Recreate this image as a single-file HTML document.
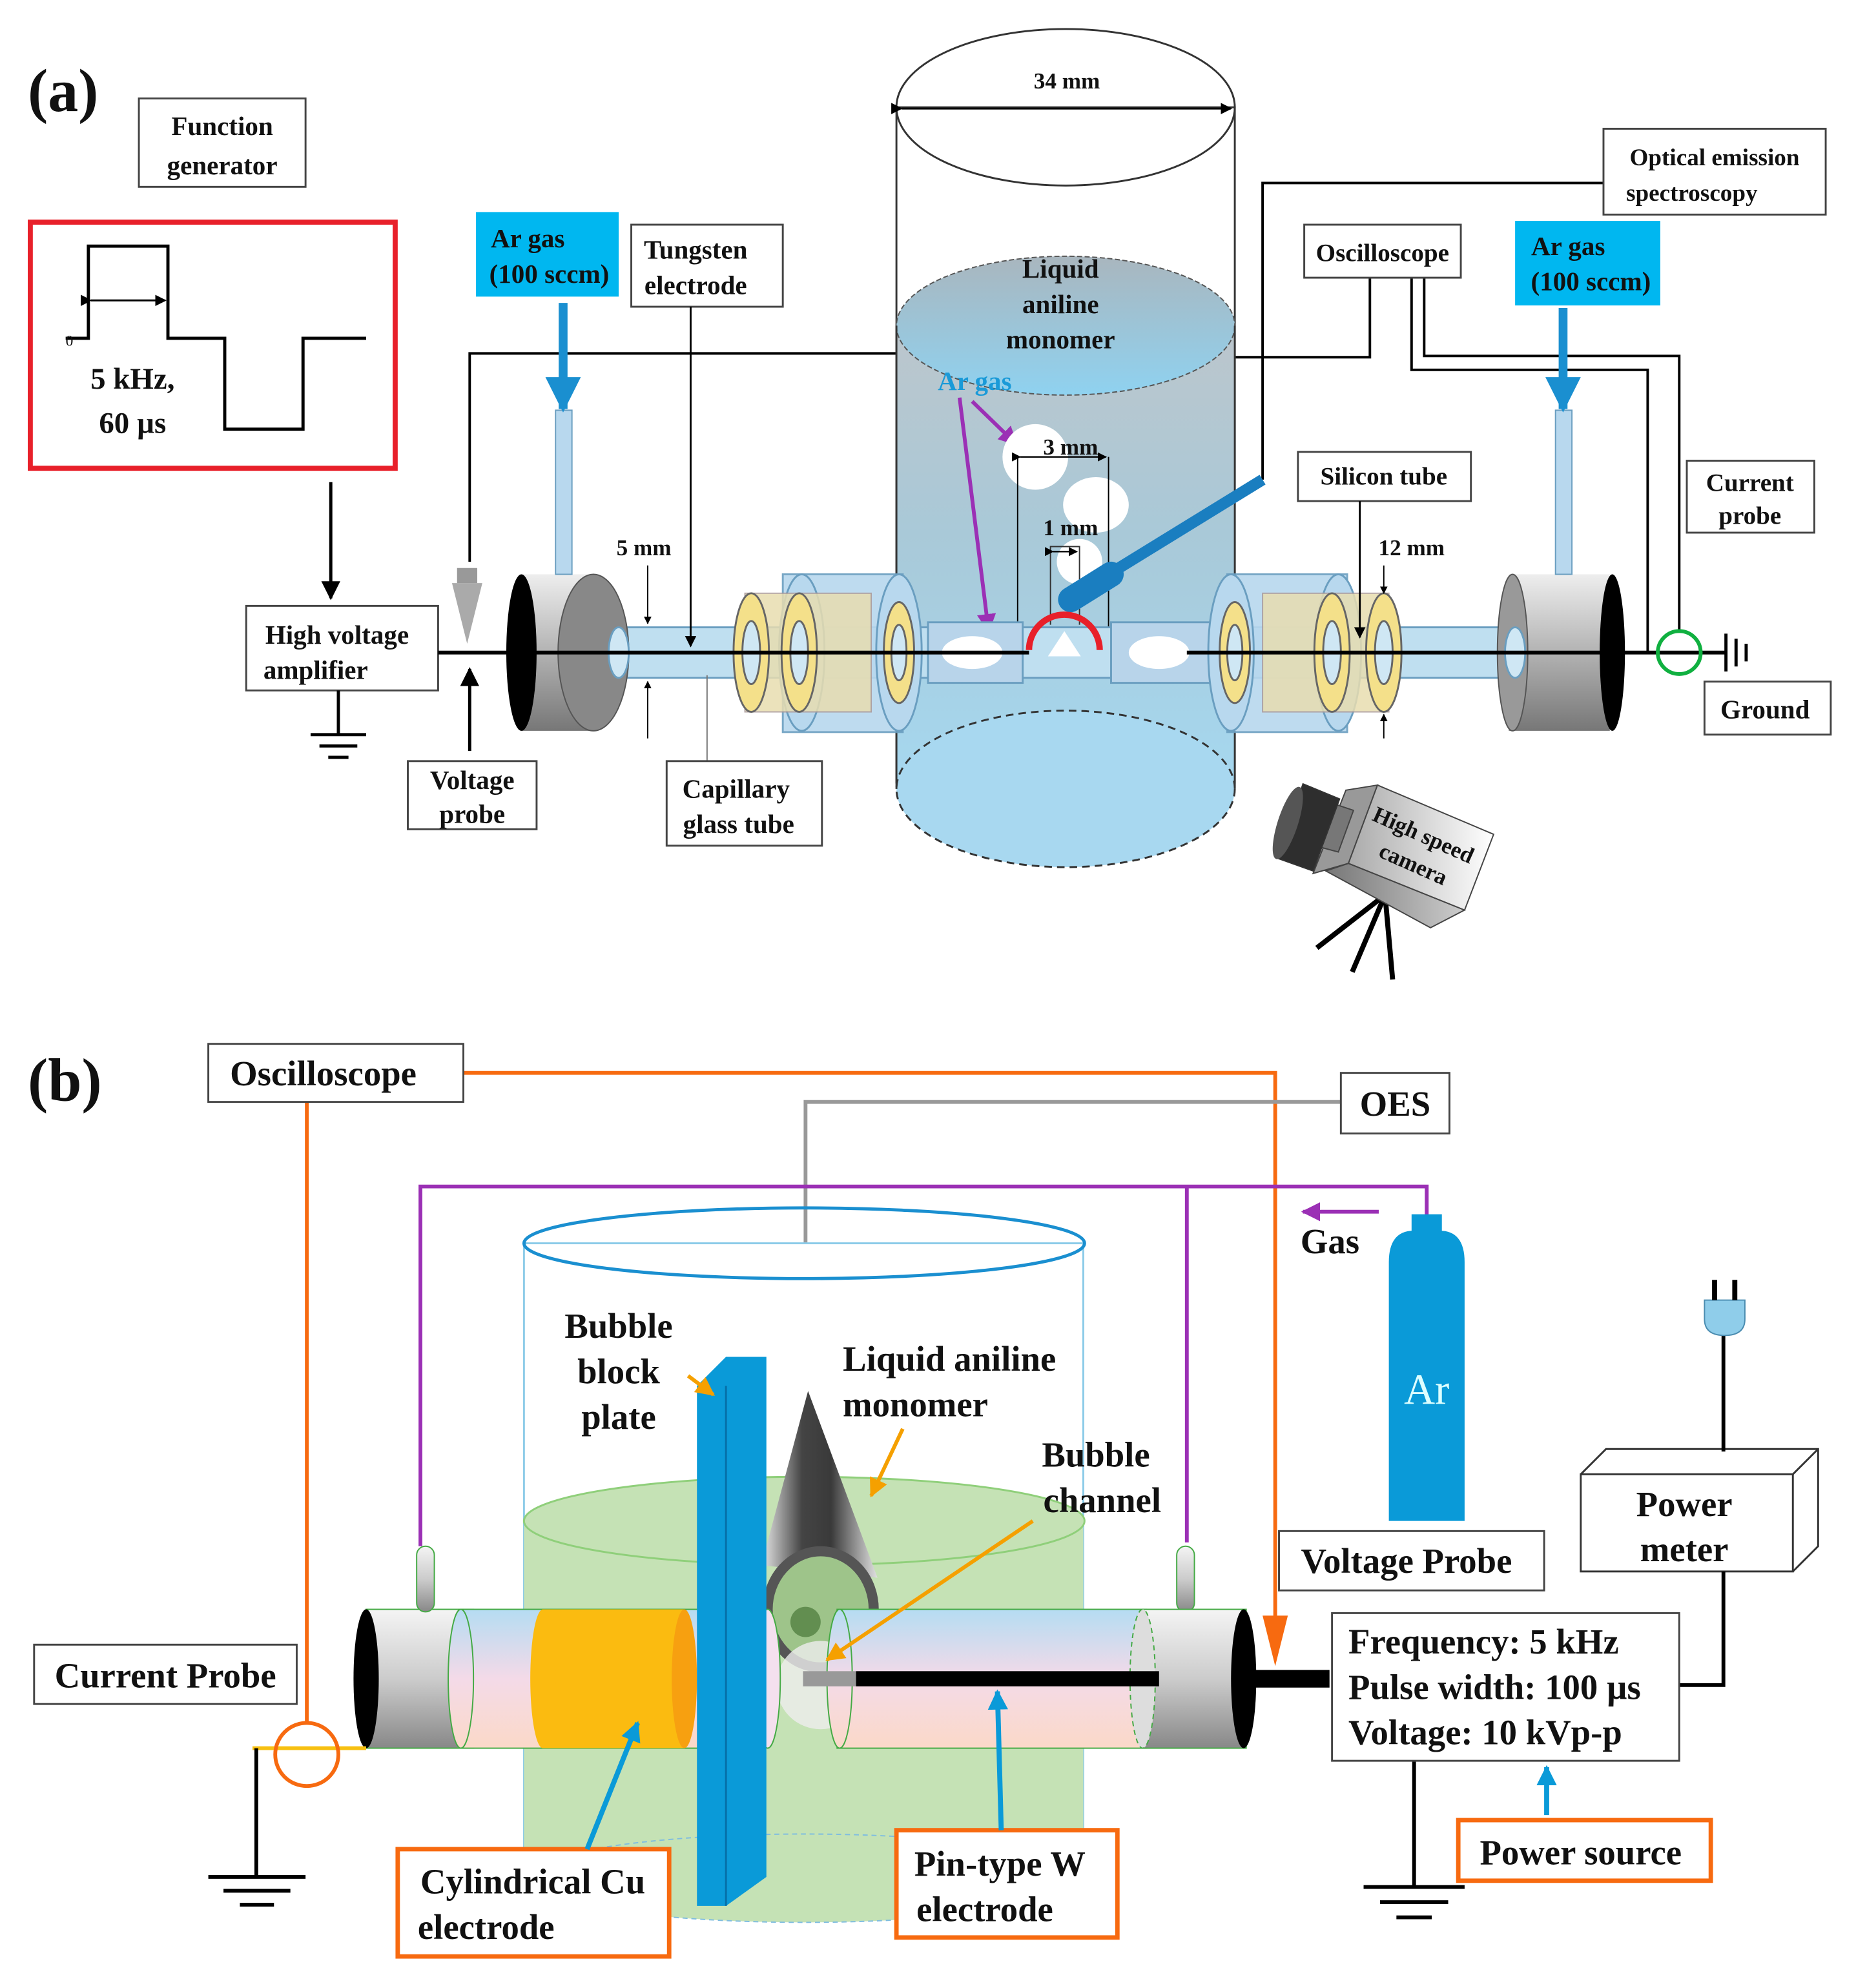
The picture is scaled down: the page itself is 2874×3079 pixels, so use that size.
<!DOCTYPE html>
<html><head><meta charset="utf-8"><style>
html,body{margin:0;padding:0;background:#fff;}
svg{display:block;}
text{font-family:"Liberation Serif",serif;fill:#111;}
.a{font-size:21px;font-weight:bold;}
.b{font-size:28px;font-weight:bold;}
</style></head><body>
<svg width="2874" height="3079" viewBox="0 0 1470 1575" preserveAspectRatio="none" xmlns="http://www.w3.org/2000/svg">
<defs>
<linearGradient id="gray" x1="0" y1="0" x2="0" y2="1"><stop offset="0" stop-color="#eee"/><stop offset="1" stop-color="#777"/></linearGradient>
<linearGradient id="gray2" x1="0" y1="0" x2="0" y2="1"><stop offset="0" stop-color="#f4f4f4"/><stop offset="0.5" stop-color="#ccc"/><stop offset="1" stop-color="#888"/></linearGradient>
<linearGradient id="liq" x1="0" y1="0" x2="0" y2="1"><stop offset="0" stop-color="#bcc6cc"/><stop offset="0.45" stop-color="#a9c9d8"/><stop offset="1" stop-color="#a5d8f0"/></linearGradient>
<linearGradient id="liqtop" x1="0" y1="0" x2="0" y2="1"><stop offset="0" stop-color="#a9b6be"/><stop offset="1" stop-color="#8fd2f0"/></linearGradient>
<linearGradient id="pink" x1="0" y1="0" x2="0" y2="1"><stop offset="0" stop-color="#b5dcf2"/><stop offset="0.5" stop-color="#f4dae8"/><stop offset="1" stop-color="#fbd9c8"/></linearGradient>
<linearGradient id="cone" x1="0" y1="0" x2="1" y2="0"><stop offset="0" stop-color="#e8e8e8"/><stop offset="0.35" stop-color="#444"/><stop offset="0.6" stop-color="#3a3a3a"/><stop offset="1" stop-color="#e0e0e0"/></linearGradient>
<linearGradient id="cam" x1="0" y1="0" x2="1" y2="0"><stop offset="0" stop-color="#aaa"/><stop offset="1" stop-color="#fff"/></linearGradient>
<linearGradient id="camb" x1="0" y1="0" x2="1" y2="0"><stop offset="0" stop-color="#777"/><stop offset="1" stop-color="#ccc"/></linearGradient>
<marker id="ar" viewBox="0 0 10 10" refX="9" refY="5" markerWidth="6" markerHeight="6" orient="auto"><path d="M0,0L10,5L0,10z" fill="#000"/></marker>
<marker id="arb" viewBox="0 0 10 10" refX="9" refY="5" markerWidth="4" markerHeight="4" orient="auto"><path d="M0,0L10,5L0,10z" fill="#1a8fd0"/></marker>
<marker id="arp" viewBox="0 0 10 10" refX="9" refY="5" markerWidth="5" markerHeight="5" orient="auto"><path d="M0,0L10,5L0,10z" fill="#9b30b5"/></marker>
<marker id="aro" viewBox="0 0 10 10" refX="9" refY="5" markerWidth="5" markerHeight="5" orient="auto"><path d="M0,0L10,5L0,10z" fill="#f5a000"/></marker>
<marker id="arc" viewBox="0 0 10 10" refX="9" refY="5" markerWidth="4" markerHeight="4" orient="auto"><path d="M0,0L10,5L0,10z" fill="#0a9ad8"/></marker>
</defs>

<!-- ============ (a) ============ -->
<text x="22" y="88" style="font-size:48px;font-weight:bold">(a)</text>
<rect x="110" y="78" width="132" height="70" fill="#fff" stroke="#444" stroke-width="1.5"/>
<text class="a" x="176" y="107" text-anchor="middle">Function</text>
<text class="a" x="176" y="138" text-anchor="middle">generator</text>
<rect x="24" y="176" width="289" height="195" fill="#fff" stroke="#e8202a" stroke-width="4"/>
<path d="M52,268H70V195H133V268H178V340H240V268H290" fill="none" stroke="#000" stroke-width="2.5"/>
<line x1="72" y1="238" x2="131" y2="238" stroke="#000" stroke-width="1.5" marker-start="url(#ar)" marker-end="url(#ar)"/>
<text x="52" y="274" style="font-size:12px">0</text>
<text class="a" x="105" y="308" text-anchor="middle" style="font-size:24px">5 kHz,</text>
<text class="a" x="105" y="343" text-anchor="middle" style="font-size:24px">60 µs</text>
<line x1="262" y1="382" x2="262" y2="474" stroke="#000" stroke-width="2.5" marker-end="url(#ar)"/>
<rect x="195" y="480" width="152" height="67" fill="#fff" stroke="#444" stroke-width="1.5"/>
<text class="a" x="267" y="510" text-anchor="middle">High voltage</text>
<text class="a" x="250" y="538" text-anchor="middle">amplifier</text>
<path d="M268,547V582M246,582H290M253,591H283M260,600H276" stroke="#000" stroke-width="2.5" fill="none"/>
<rect x="323" y="603" width="102" height="54" fill="#fff" stroke="#444" stroke-width="1.5"/>
<text class="a" x="374" y="625" text-anchor="middle">Voltage</text>
<text class="a" x="374" y="652" text-anchor="middle">probe</text>
<line x1="372" y1="595" x2="372" y2="530" stroke="#000" stroke-width="2.5" marker-end="url(#ar)"/>

<!-- wires -->
<path d="M372,445V280H712" stroke="#000" stroke-width="2" fill="none"/>
<path d="M978,283H1085V220" stroke="#000" stroke-width="2" fill="none"/>
<path d="M1000,380V145H1270" stroke="#000" stroke-width="2" fill="none"/>
<path d="M1118,220V293H1305V517" stroke="#000" stroke-width="2" fill="none"/>
<path d="M1128,220V282H1330V500" stroke="#000" stroke-width="2" fill="none"/>
<!-- probe needle -->
<rect x="362" y="450" width="16" height="12" fill="#999"/>
<path d="M358,462H382L370,510Z" fill="#aaa"/>

<!-- central cylinder -->
<rect x="710" y="85" width="268" height="535" fill="#fff" stroke="#333" stroke-width="1.5"/>
<rect x="710" y="258" width="268" height="367" fill="url(#liq)"/>
<ellipse cx="844" cy="85" rx="134" ry="62" fill="none" stroke="#333" stroke-width="1.5"/>
<ellipse cx="844" cy="258" rx="134" ry="55" fill="url(#liqtop)" stroke="#555" stroke-width="1" stroke-dasharray="4,2"/>
<ellipse cx="844" cy="625" rx="134" ry="62" fill="#a8d8f0" stroke="#333" stroke-width="1.5" stroke-dasharray="6,4"/>
<path d="M710,258V625M978,258V625" stroke="#333" stroke-width="1.5"/>
<line x1="714" y1="86" x2="975" y2="86" stroke="#000" stroke-width="1.5" marker-start="url(#ar)" marker-end="url(#ar)"/>
<text class="a" x="845" y="70" text-anchor="middle" style="font-size:18px">34 mm</text>
<text class="a" x="840" y="220" text-anchor="middle">Liquid</text>
<text class="a" x="840" y="248" text-anchor="middle">aniline</text>
<text class="a" x="840" y="276" text-anchor="middle">monomer</text>
<text class="a" x="772" y="309" text-anchor="middle" style="fill:#1a9ad8">Ar gas</text>
<line x1="760" y1="315" x2="783" y2="500" stroke="#9b30b5" stroke-width="3" marker-end="url(#arp)"/>
<line x1="770" y1="318" x2="805" y2="352" stroke="#9b30b5" stroke-width="3" marker-end="url(#arp)"/>
<circle cx="820" cy="362" r="26" fill="#fff"/>
<ellipse cx="868" cy="400" rx="26" ry="22" fill="#fff"/>
<circle cx="855" cy="445" r="18" fill="#fff"/>
<text class="a" x="848" y="360" text-anchor="middle" style="font-size:18px">3 mm</text>
<line x1="808" y1="362" x2="876" y2="362" stroke="#000" stroke-width="1.2" marker-start="url(#ar)" marker-end="url(#ar)"/>
<line x1="806" y1="362" x2="806" y2="500" stroke="#000" stroke-width="1"/>
<line x1="878" y1="362" x2="878" y2="500" stroke="#000" stroke-width="1"/>
<text class="a" x="848" y="424" text-anchor="middle" style="font-size:18px">1 mm</text>
<path d="M832,495V433H855V495" fill="none" stroke="#333" stroke-width="1"/>
<line x1="834" y1="437" x2="853" y2="437" stroke="#000" stroke-width="1.2" marker-start="url(#ar)" marker-end="url(#ar)"/>
<!-- fiber -->
<line x1="1000" y1="380" x2="870" y2="460" stroke="#1a7ec0" stroke-width="9"/>
<line x1="880" y1="455" x2="848" y2="475" stroke="#1a7ec0" stroke-width="20" stroke-linecap="round"/>

<!-- horizontal tubes (a) -->
<rect x="455" y="497" width="750" height="40" fill="#bfdff0" stroke="#6a9ec0" stroke-width="1.5"/>
<rect x="735" y="493" width="75" height="48" fill="#b8d4ea" stroke="#6a9ec0" stroke-width="1.5"/>
<rect x="880" y="493" width="80" height="48" fill="#b8d4ea" stroke="#6a9ec0" stroke-width="1.5"/>
<ellipse cx="770" cy="517" rx="24" ry="13" fill="#fff"/>
<ellipse cx="918" cy="517" rx="24" ry="13" fill="#fff"/>
<path d="M815,515A28,28 0 0 1 871,515" fill="none" stroke="#e8202a" stroke-width="5"/>
<path d="M830,520L843,500L856,520" fill="#fff"/>
<!-- left ring assemblies -->
<g>
<rect x="620" y="455" width="95" height="125" fill="#b8d8ee" stroke="#6a9ec0" stroke-width="1.5" opacity="0.9"/>
<ellipse cx="635" cy="517" rx="18" ry="62" fill="#b8d8ee" stroke="#6a9ec0" stroke-width="1.5"/>
<ellipse cx="712" cy="517" rx="18" ry="62" fill="#b8d8ee" stroke="#6a9ec0" stroke-width="1.5"/>
<rect x="590" y="470" width="100" height="94" fill="#e8ddb0" stroke="#a99" stroke-width="1" opacity="0.85"/>
<ellipse cx="595" cy="517" rx="14" ry="47" fill="#f4e08a" stroke="#666" stroke-width="1.5"/>
<ellipse cx="595" cy="517" rx="7" ry="25" fill="#cfe7f4" stroke="#666" stroke-width="1.5"/>
<ellipse cx="633" cy="517" rx="14" ry="47" fill="#f4e08a" stroke="#666" stroke-width="1.5"/>
<ellipse cx="633" cy="517" rx="7" ry="25" fill="#cfe7f4" stroke="#666" stroke-width="1.5"/>
<ellipse cx="712" cy="517" rx="12" ry="40" fill="#f4e08a" stroke="#666" stroke-width="1.5"/>
<ellipse cx="712" cy="517" rx="6" ry="22" fill="#cfe7f4" stroke="#666" stroke-width="1.5"/>
</g>
<g>
<rect x="972" y="455" width="95" height="125" fill="#b8d8ee" stroke="#6a9ec0" stroke-width="1.5" opacity="0.9"/>
<ellipse cx="975" cy="517" rx="18" ry="62" fill="#b8d8ee" stroke="#6a9ec0" stroke-width="1.5"/>
<ellipse cx="1060" cy="517" rx="18" ry="62" fill="#b8d8ee" stroke="#6a9ec0" stroke-width="1.5"/>
<rect x="1000" y="470" width="100" height="94" fill="#e8ddb0" stroke="#a99" stroke-width="1" opacity="0.85"/>
<ellipse cx="978" cy="517" rx="12" ry="40" fill="#f4e08a" stroke="#666" stroke-width="1.5"/>
<ellipse cx="978" cy="517" rx="6" ry="22" fill="#cfe7f4" stroke="#666" stroke-width="1.5"/>
<ellipse cx="1055" cy="517" rx="14" ry="47" fill="#f4e08a" stroke="#666" stroke-width="1.5"/>
<ellipse cx="1055" cy="517" rx="7" ry="25" fill="#cfe7f4" stroke="#666" stroke-width="1.5"/>
<ellipse cx="1096" cy="517" rx="14" ry="47" fill="#f4e08a" stroke="#666" stroke-width="1.5"/>
<ellipse cx="1096" cy="517" rx="7" ry="25" fill="#cfe7f4" stroke="#666" stroke-width="1.5"/>
</g>
<!-- gray end caps -->
<rect x="413" y="455" width="60" height="124" fill="url(#gray)"/>
<ellipse cx="413" cy="517" rx="12" ry="62" fill="#000"/>
<ellipse cx="470" cy="517" rx="28" ry="62" fill="#888" stroke="#555"/>
<ellipse cx="490" cy="517" rx="8" ry="20" fill="#cfe7f4" stroke="#6a9ec0" stroke-width="1.5"/>
<rect x="1195" y="455" width="80" height="124" fill="url(#gray)"/>
<ellipse cx="1198" cy="517" rx="12" ry="62" fill="#999" stroke="#555"/>
<ellipse cx="1200" cy="517" rx="8" ry="20" fill="#cfe7f4" stroke="#6a9ec0" stroke-width="1.5"/>
<ellipse cx="1277" cy="517" rx="10" ry="62" fill="#000"/>
<!-- gas tubes -->
<rect x="440" y="325" width="13" height="130" fill="#b8d8ee" stroke="#6a9ec0"/>
<rect x="1232" y="325" width="13" height="130" fill="#b8d8ee" stroke="#6a9ec0"/>
<line x1="446" y1="240" x2="446" y2="324" stroke="#1a8fd0" stroke-width="7" marker-end="url(#arb)"/>
<line x1="1238" y1="244" x2="1238" y2="324" stroke="#1a8fd0" stroke-width="7" marker-end="url(#arb)"/>
<!-- center wire -->
<line x1="347" y1="517" x2="815" y2="517" stroke="#000" stroke-width="3"/>
<line x1="940" y1="517" x2="1367" y2="517" stroke="#000" stroke-width="3"/>
<circle cx="1330" cy="517" r="17" fill="none" stroke="#10b040" stroke-width="3"/>
<path d="M1367,502V532M1375,506V528M1383,510V524" stroke="#000" stroke-width="2.5"/>

<!-- labels (a) -->
<rect x="377" y="168" width="113" height="67" fill="#00b7f0"/>
<text class="a" x="418" y="196" text-anchor="middle">Ar gas</text>
<text class="a" x="435" y="224" text-anchor="middle">(100 sccm)</text>
<rect x="500" y="178" width="120" height="65" fill="#fff" stroke="#444" stroke-width="1.5"/>
<text class="a" x="551" y="205" text-anchor="middle">Tungsten</text>
<text class="a" x="551" y="233" text-anchor="middle">electrode</text>
<line x1="547" y1="243" x2="547" y2="512" stroke="#000" stroke-width="1.5" marker-end="url(#ar)"/>
<text class="a" x="510" y="440" text-anchor="middle" style="font-size:18px">5 mm</text>
<line x1="513" y1="448" x2="513" y2="494" stroke="#000" stroke-width="1" marker-end="url(#ar)"/>
<line x1="513" y1="585" x2="513" y2="540" stroke="#000" stroke-width="1" marker-end="url(#ar)"/>
<line x1="560" y1="535" x2="560" y2="603" stroke="#777" stroke-width="1"/>
<rect x="528" y="603" width="123" height="67" fill="#fff" stroke="#444" stroke-width="1.5"/>
<text class="a" x="583" y="632" text-anchor="middle">Capillary</text>
<text class="a" x="585" y="660" text-anchor="middle">glass tube</text>
<rect x="1270" y="102" width="176" height="68" fill="#fff" stroke="#444" stroke-width="1.5"/>
<text class="a" x="1358" y="131" text-anchor="middle" style="font-size:19px">Optical emission</text>
<text class="a" x="1340" y="159" text-anchor="middle" style="font-size:19px">spectroscopy</text>
<rect x="1033" y="178" width="124" height="42" fill="#fff" stroke="#444" stroke-width="1.5"/>
<text class="a" x="1095" y="207" text-anchor="middle" style="font-size:20px">Oscilloscope</text>
<rect x="1200" y="175" width="115" height="67" fill="#00b7f0"/>
<text class="a" x="1242" y="202" text-anchor="middle">Ar gas</text>
<text class="a" x="1260" y="230" text-anchor="middle">(100 sccm)</text>
<rect x="1028" y="358" width="137" height="39" fill="#fff" stroke="#444" stroke-width="1.5"/>
<text class="a" x="1096" y="384" text-anchor="middle" style="font-size:20px">Silicon tube</text>
<line x1="1077" y1="397" x2="1077" y2="505" stroke="#000" stroke-width="1.5" marker-end="url(#ar)"/>
<text class="a" x="1118" y="440" text-anchor="middle" style="font-size:18px">12 mm</text>
<line x1="1096" y1="448" x2="1096" y2="470" stroke="#000" stroke-width="1" marker-end="url(#ar)"/>
<line x1="1096" y1="585" x2="1096" y2="566" stroke="#000" stroke-width="1" marker-end="url(#ar)"/>
<rect x="1336" y="365" width="101" height="57" fill="#fff" stroke="#444" stroke-width="1.5"/>
<text class="a" x="1386" y="389" text-anchor="middle" style="font-size:20px">Current</text>
<text class="a" x="1386" y="415" text-anchor="middle" style="font-size:20px">probe</text>
<rect x="1350" y="540" width="100" height="42" fill="#fff" stroke="#444" stroke-width="1.5"/>
<text class="a" x="1398" y="569" text-anchor="middle">Ground</text>

<!-- camera -->
<g>
<path d="M1097,709L1043,751M1097,709L1071,770M1097,709L1103,776" stroke="#000" stroke-width="4"/>
<path d="M1066,626L1091,622L1068,684L1040,692Z" fill="#999" stroke="#444" stroke-width="1"/>
<path d="M1050,690L1068,684L1160,721L1133,735Z" fill="url(#camb)" stroke="#444" stroke-width="1"/>
<path d="M1091,622L1183,661L1160,721L1068,684Z" fill="url(#cam)" stroke="#444" stroke-width="1"/>
<path d="M1057,637L1072,642L1060,675L1045,671Z" fill="#777" stroke="#444"/>
<path d="M1012,680L1032,621L1061,633L1040,690Z" fill="#2e2e2e" stroke="#333"/>
<ellipse cx="1020" cy="652" rx="8" ry="30" transform="rotate(18 1020 652)" fill="#555"/>
<text class="a" x="1125" y="667" text-anchor="middle" transform="rotate(24 1125 667)" style="font-size:18px">High speed</text>
<text class="a" x="1117" y="690" text-anchor="middle" transform="rotate(24 1117 690)" style="font-size:18px">camera</text>
</g>

<!-- ============ (b) ============ -->
<text x="22" y="872" style="font-size:48px;font-weight:bold">(b)</text>
<path d="M367,850H1010V1305" stroke="#f76a10" stroke-width="3" fill="none"/>
<path d="M1000,1280L1010,1320L1020,1280Z" fill="#f76a10"/>
<path d="M243,873V1365" stroke="#f76a10" stroke-width="3" fill="none"/>
<path d="M1062,873H638V1105" stroke="#999" stroke-width="3" fill="none"/>
<path d="M333,1225V940H1130V965M940,940V1222" stroke="#9b30b5" stroke-width="3" fill="none"/>
<line x1="1092" y1="960" x2="1032" y2="960" stroke="#9b30b5" stroke-width="3" marker-end="url(#arp)"/>
<text class="b" x="1030" y="993">Gas</text>
<rect x="1118" y="962" width="24" height="14" fill="#0a9ad8"/>
<path d="M1100,1205V1000Q1100,975 1120,975H1140Q1160,975 1160,1000V1205Z" fill="#0a9ad8"/>
<text x="1130" y="1112" text-anchor="middle" style="font-size:34px;fill:#dff">Ar</text>

<rect x="415" y="985" width="443" height="500" fill="#fff" stroke="#8ccbe8" stroke-width="1.5"/>
<rect x="415" y="1205" width="443" height="285" fill="#c5e2b5"/>
<ellipse cx="637" cy="1205" rx="222" ry="35" fill="#c5e2b5" stroke="#8fcf7a" stroke-width="1.5"/>
<ellipse cx="637" cy="1488" rx="222" ry="35" fill="#c5e2b5" stroke="#7fbde0" stroke-width="1" stroke-dasharray="4,3"/>
<ellipse cx="637" cy="985" rx="222" ry="28" fill="none" stroke="#1a8fd0" stroke-width="2.5"/>
<path d="M640,1102L603,1240L695,1250Z" fill="url(#cone)"/>
<ellipse cx="650" cy="1275" rx="42" ry="46" fill="#9ec48a" stroke="#555" stroke-width="8"/>
<circle cx="638" cy="1285" r="12" fill="#3a6a2a" opacity="0.6"/>
<rect x="290" y="1275" width="85" height="110" fill="url(#gray2)" stroke="#4a4" stroke-width="1"/>
<ellipse cx="290" cy="1330" rx="10" ry="55" fill="#000"/>
<rect x="330" y="1225" width="14" height="52" rx="7" fill="url(#gray2)" stroke="#4a4"/>
<rect x="932" y="1225" width="14" height="52" rx="7" fill="url(#gray2)" stroke="#4a4"/>
<rect x="365" y="1275" width="190" height="110" fill="url(#pink)" stroke="#4a4" stroke-width="1"/>
<ellipse cx="365" cy="1330" rx="10" ry="55" fill="url(#pink)" stroke="#4a4" stroke-width="1"/>
<rect x="430" y="1275" width="112" height="110" fill="#fbbb10"/>
<ellipse cx="430" cy="1330" rx="10" ry="55" fill="#fbbb10"/>
<ellipse cx="542" cy="1330" rx="10" ry="55" fill="#f7a010"/>
<circle cx="650" cy="1335" r="35" fill="#eee" opacity="0.8"/>
<rect x="663" y="1275" width="245" height="110" fill="url(#pink)" stroke="#4a4" stroke-width="1"/>
<ellipse cx="665" cy="1330" rx="10" ry="55" fill="url(#pink)" stroke="#4a4" stroke-width="1"/>
<rect x="905" y="1275" width="82" height="110" fill="url(#gray2)" stroke="#4a4" stroke-width="1"/>
<ellipse cx="905" cy="1330" rx="10" ry="55" fill="#ddd" stroke="#4a4" stroke-width="1" stroke-dasharray="4,3"/>
<ellipse cx="985" cy="1330" rx="10" ry="55" fill="#000"/>
<rect x="636" y="1324" width="42" height="12" fill="#999"/>
<rect x="678" y="1324" width="240" height="12" fill="#000"/>
<rect x="985" y="1323" width="68" height="14" fill="#000"/>
<ellipse cx="590" cy="1330" rx="10" ry="55" fill="#f9dde6" stroke="#4a4" stroke-width="1"/>
<ellipse cx="608" cy="1330" rx="10" ry="55" fill="#f4e0ee" stroke="#4a4" stroke-width="1"/>
<path d="M552,1098L575,1075H607V1487L575,1510H552Z" fill="#0a9ad8"/>
<path d="M575,1098V1510" stroke="#0670a8" stroke-width="1.5"/>
<path d="M200,1385H290" stroke="#f7c010" stroke-width="3"/>
<circle cx="243" cy="1390" r="25" fill="none" stroke="#f76a10" stroke-width="3"/>
<path d="M203,1385V1487M165,1487H242M177,1498H230M190,1509H217" stroke="#000" stroke-width="3" fill="none"/>
<path d="M1120,1395V1495M1080,1495H1160M1093,1507H1147M1106,1519H1134" stroke="#000" stroke-width="3" fill="none"/>
<rect x="165" y="827" width="202" height="46" fill="#fff" stroke="#444" stroke-width="1.5"/>
<text class="b" x="256" y="860" text-anchor="middle">Oscilloscope</text>
<rect x="1062" y="850" width="86" height="48" fill="#fff" stroke="#444" stroke-width="1.5"/>
<text class="b" x="1105" y="884" text-anchor="middle">OES</text>
<text class="b" x="490" y="1060" text-anchor="middle">Bubble</text>
<text class="b" x="490" y="1096" text-anchor="middle">block</text>
<text class="b" x="490" y="1132" text-anchor="middle">plate</text>
<line x1="545" y1="1090" x2="565" y2="1105" stroke="#f5a000" stroke-width="3" marker-end="url(#aro)"/>
<text class="b" x="752" y="1086" text-anchor="middle">Liquid aniline</text>
<text class="b" x="725" y="1122" text-anchor="middle">monomer</text>
<line x1="715" y1="1132" x2="690" y2="1185" stroke="#f5a000" stroke-width="3" marker-end="url(#aro)"/>
<text class="b" x="868" y="1162" text-anchor="middle">Bubble</text>
<text class="b" x="873" y="1198" text-anchor="middle">channel</text>
<line x1="818" y1="1205" x2="655" y2="1315" stroke="#f5a000" stroke-width="3" marker-end="url(#aro)"/>
<rect x="1013" y="1213" width="210" height="47" fill="#fff" stroke="#444" stroke-width="1.5"/>
<text class="b" x="1114" y="1246" text-anchor="middle">Voltage Probe</text>
<path d="M1252,1168L1272,1148H1440V1225L1420,1245" fill="#fff" stroke="#333" stroke-width="1.5"/>
<rect x="1252" y="1168" width="168" height="77" fill="#fff" stroke="#333" stroke-width="1.5"/>
<path d="M1420,1168L1440,1148" stroke="#333" stroke-width="1.5"/>
<text class="b" x="1334" y="1201" text-anchor="middle">Power</text>
<text class="b" x="1334" y="1237" text-anchor="middle">meter</text>
<path d="M1365,1058V1150" stroke="#000" stroke-width="3"/>
<path d="M1350,1030H1382V1045Q1382,1058 1366,1058Q1350,1058 1350,1045Z" fill="#8fcdea" stroke="#4a8cb0"/>
<path d="M1358,1030V1014M1374,1030V1014" stroke="#000" stroke-width="4"/>
<path d="M1330,1335H1365V1245" stroke="#000" stroke-width="3" fill="none"/>
<rect x="1055" y="1278" width="275" height="117" fill="#fff" stroke="#444" stroke-width="1.5"/>
<text class="b" x="1068" y="1310">Frequency: 5 kHz</text>
<text class="b" x="1068" y="1346">Pulse width: 100 µs</text>
<text class="b" x="1068" y="1382">Voltage: 10 kVp-p</text>
<line x1="1225" y1="1438" x2="1225" y2="1400" stroke="#0a9ad8" stroke-width="4" marker-end="url(#arc)"/>
<rect x="1155" y="1442" width="200" height="48" fill="#fff" stroke="#f76a10" stroke-width="3.5"/>
<text class="b" x="1252" y="1477" text-anchor="middle">Power source</text>
<rect x="27" y="1303" width="208" height="47" fill="#fff" stroke="#444" stroke-width="1.5"/>
<text class="b" x="131" y="1337" text-anchor="middle">Current Probe</text>
<rect x="315" y="1465" width="215" height="85" fill="#fff" stroke="#f76a10" stroke-width="3.5"/>
<text class="b" x="422" y="1500" text-anchor="middle">Cylindrical Cu</text>
<text class="b" x="385" y="1536" text-anchor="middle">electrode</text>
<line x1="465" y1="1465" x2="505" y2="1365" stroke="#0a9ad8" stroke-width="4" marker-end="url(#arc)"/>
<rect x="710" y="1450" width="175" height="85" fill="#fff" stroke="#f76a10" stroke-width="3.5"/>
<text class="b" x="792" y="1486" text-anchor="middle">Pin-type W</text>
<text class="b" x="780" y="1522" text-anchor="middle">electrode</text>
<line x1="793" y1="1450" x2="790" y2="1340" stroke="#0a9ad8" stroke-width="4" marker-end="url(#arc)"/>
</svg>
</body></html>
